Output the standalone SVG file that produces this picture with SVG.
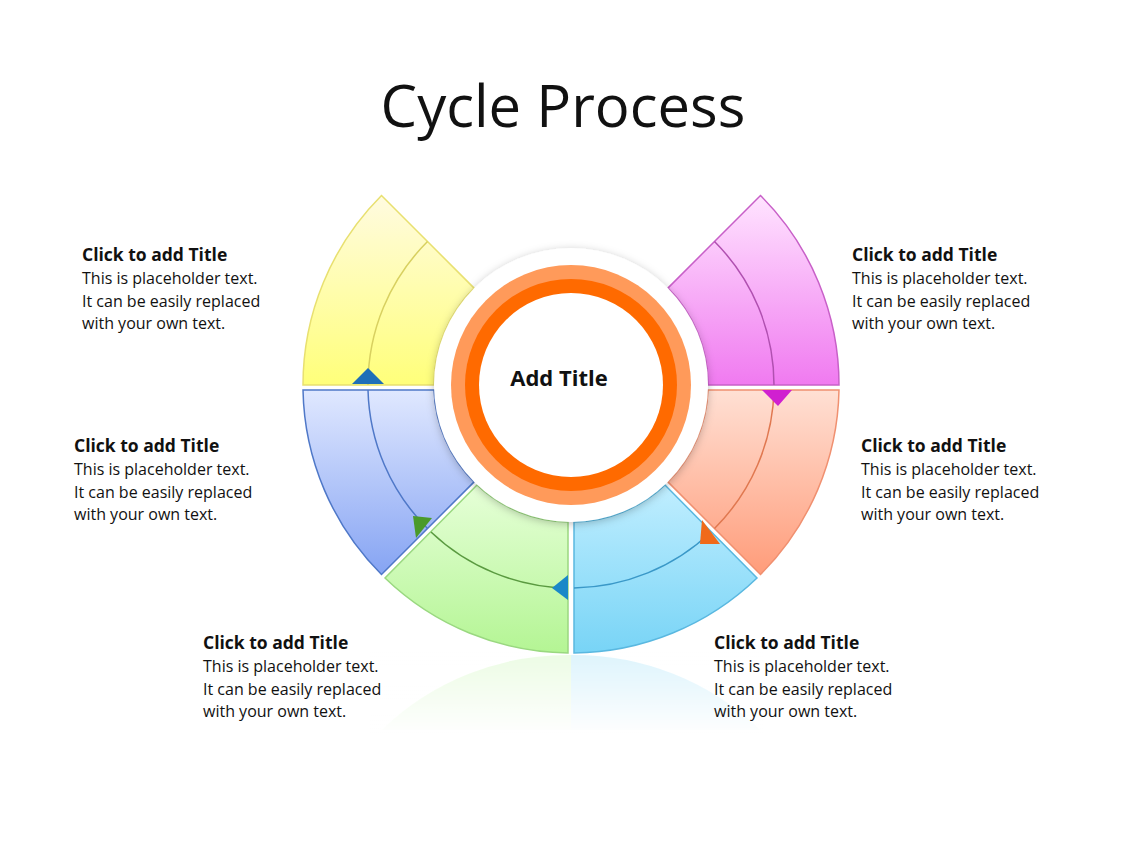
<svg xmlns="http://www.w3.org/2000/svg" width="1128" height="846" viewBox="0 0 1128 846">
<defs>
<linearGradient id="gy" x1="0" y1="0" x2="0" y2="1"><stop offset="0" stop-color="#fffbe0"/><stop offset="1" stop-color="#ffff7a"/></linearGradient>
<linearGradient id="gb" x1="0" y1="0" x2="0" y2="1"><stop offset="0" stop-color="#e0e8ff"/><stop offset="1" stop-color="#86a4f3"/></linearGradient>
<linearGradient id="gg" x1="0" y1="0" x2="0" y2="1"><stop offset="0" stop-color="#e6ffd8"/><stop offset="1" stop-color="#b4f594"/></linearGradient>
<linearGradient id="gl" x1="0" y1="0" x2="0" y2="1"><stop offset="0" stop-color="#c0eeff"/><stop offset="1" stop-color="#78d4f6"/></linearGradient>
<linearGradient id="gs" x1="0" y1="0" x2="0" y2="1"><stop offset="0" stop-color="#ffe0d4"/><stop offset="1" stop-color="#ff9c7a"/></linearGradient>
<linearGradient id="gp" x1="0" y1="0" x2="0" y2="1"><stop offset="0" stop-color="#ffe4ff"/><stop offset="1" stop-color="#f07af0"/></linearGradient>
<linearGradient id="gr" x1="0" y1="0" x2="0" y2="1"><stop offset="0" stop-color="#fff" stop-opacity="0"/><stop offset="1" stop-color="#fff" stop-opacity="1"/></linearGradient>
<filter id="sh" x="-20%" y="-20%" width="140%" height="140%"><feDropShadow dx="0" dy="2" stdDeviation="4" flood-color="#000" flood-opacity="0.25"/></filter>
</defs>
<style>
.t{font-family:"Open Sans","Liberation Sans",Arial,sans-serif;fill:#111}
.h{font-weight:bold;font-size:17.5px}
.b{font-size:16px}
.mid{fill:none}
</style>
<rect width="1128" height="846" fill="#fff"/>
<text class="t" x="563" y="127" font-size="58" text-anchor="middle">Cycle Process</text>

<g id="reflection" opacity="0.25">
<path d="M381.5,730 A268,268 0 0 1 571,655 L571,730 Z" fill="#b4f594"/>
<path d="M571,655 A268,268 0 0 1 760.5,730 L571,730 Z" fill="#78d4f6"/>
<rect x="370" y="650" width="400" height="85" fill="url(#gr)"/>
</g>

<g id="seg-yellow"><path d="M303,385 A268,268 0 0 1 381.5,195.5 L474.1,288.1 A137,137 0 0 0 434,385 Z" fill="url(#gy)" stroke="#e8e070" stroke-width="1.5"/>
<path class="mid" d="M368,385 A203,203 0 0 1 427.5,241.5" stroke="#d8d060" stroke-width="1.5"/></g>
<g id="seg-blue"><path d="M303,390 A268,268 0 0 0 381.5,574.5 L474.1,481.9 A137,137 0 0 1 434,390 Z" fill="url(#gb)" stroke="#4f78c8" stroke-width="1.5"/>
<path class="mid" d="M368,390 A203,203 0 0 0 427.5,528.5" stroke="#4f78c8" stroke-width="1.5"/></g>
<g id="seg-green"><path d="M385,578 A268,268 0 0 0 568,653 L568,522 A137,137 0 0 1 477,485 Z" fill="url(#gg)" stroke="#9ad880" stroke-width="1.5"/>
<path class="mid" d="M431,532 A203,203 0 0 0 568,588" stroke="#5a9a40" stroke-width="1.5"/></g>
<g id="seg-lightblue"><path d="M574,653 A268,268 0 0 0 757,578 L665,485 A137,137 0 0 1 574,522 Z" fill="url(#gl)" stroke="#5ab8e0" stroke-width="1.5"/>
<path class="mid" d="M574,588 A203,203 0 0 0 711,532" stroke="#3a98c8" stroke-width="1.5"/></g>
<g id="seg-salmon"><path d="M760.5,574.5 A268,268 0 0 0 839,390 L708,390 A137,137 0 0 1 667.9,481.9 Z" fill="url(#gs)" stroke="#f09070" stroke-width="1.5"/>
<path class="mid" d="M714.5,528.5 A203,203 0 0 0 774,390" stroke="#e07850" stroke-width="1.5"/></g>
<g id="seg-pink"><path d="M839,385 A268,268 0 0 0 760.5,195.5 L667.9,288.1 A137,137 0 0 1 708,385 Z" fill="url(#gp)" stroke="#c860c8" stroke-width="1.5"/>
<path class="mid" d="M774,385 A203,203 0 0 0 714.5,241.5" stroke="#b050b0" stroke-width="1.5"/></g>

<g id="connectors">
<path d="M352,384 L368,368 L384,384 Z" fill="#1f6fb8"/>
<path d="M762,390 L778,406 L792,390 Z" fill="#d020d0"/>
<path d="M413,516 L432,518 L416,538 Z" fill="#4a9a2a"/>
<path d="M552,588 L568,575 L568,600 Z" fill="#1a88c8"/>
<path d="M702,520 L720,544 L700,544 Z" fill="#f06a1a"/>
</g>

<g id="center">
<circle cx="571" cy="385" r="137" fill="#fff" filter="url(#sh)"/>
<circle cx="571" cy="385" r="120" fill="#ff9a5a"/>
<circle cx="571" cy="385" r="106" fill="#ff6a00"/>
<circle cx="571" cy="385" r="92" fill="#fff"/>
<text class="t" x="559" y="386" font-size="22" font-weight="bold" text-anchor="middle">Add Title</text>
</g>

<g id="txt-tl"><text class="t h" x="82" y="261">Click to add Title</text><text class="t b" x="82" y="284">This is placeholder text.</text><text class="t b" x="82" y="307">It can be easily replaced</text><text class="t b" x="82" y="329">with your own text.</text></g>
<g id="txt-ml"><text class="t h" x="74" y="452">Click to add Title</text><text class="t b" x="74" y="475">This is placeholder text.</text><text class="t b" x="74" y="498">It can be easily replaced</text><text class="t b" x="74" y="520">with your own text.</text></g>
<g id="txt-bl"><text class="t h" x="203" y="649">Click to add Title</text><text class="t b" x="203" y="672">This is placeholder text.</text><text class="t b" x="203" y="695">It can be easily replaced</text><text class="t b" x="203" y="717">with your own text.</text></g>
<g id="txt-tr"><text class="t h" x="852" y="261">Click to add Title</text><text class="t b" x="852" y="284">This is placeholder text.</text><text class="t b" x="852" y="307">It can be easily replaced</text><text class="t b" x="852" y="329">with your own text.</text></g>
<g id="txt-mr"><text class="t h" x="861" y="452">Click to add Title</text><text class="t b" x="861" y="475">This is placeholder text.</text><text class="t b" x="861" y="498">It can be easily replaced</text><text class="t b" x="861" y="520">with your own text.</text></g>
<g id="txt-br"><text class="t h" x="714" y="649">Click to add Title</text><text class="t b" x="714" y="672">This is placeholder text.</text><text class="t b" x="714" y="695">It can be easily replaced</text><text class="t b" x="714" y="717">with your own text.</text></g>
</svg>
